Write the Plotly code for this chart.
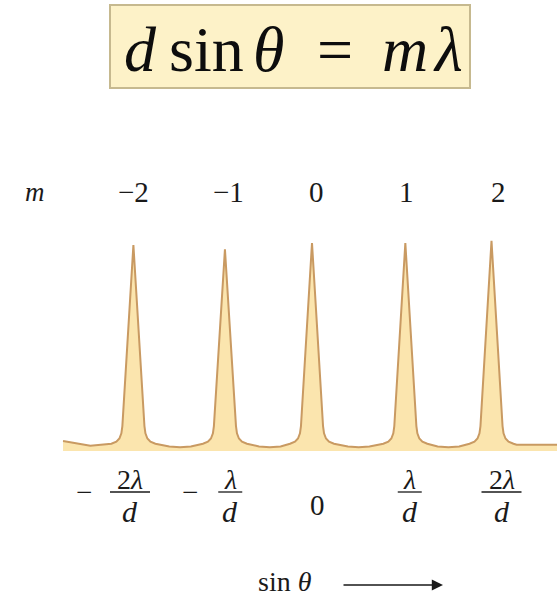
import plotly.graph_objects as go

# ---- data -------------------------------------------------------------
orders = [-2, -1, 0, 1, 2]                      # diffraction order m
order_labels = ["\u22122", "\u22121", "0", "1", "2"]
peak_pos = [-1.99, -0.97, 0.0, 1.04, 2.0]        # sin(theta) in units of lambda/d
peak_top = [0.99, 0.97, 1.0, 1.0, 1.01]          # relative intensity at each maximum

# flank of a principal maximum: offset from centre and intensity level
flank_dx = [0.245, 0.19, 0.156, 0.134, 0.123]
flank_y = [0.035, 0.045, 0.06, 0.085, 0.12]

# shallow troughs between neighbouring maxima
trough_x = [-1.47, -0.47, 0.52, 1.52]
trough_y = [0.018, 0.018, 0.018, 0.018]
trough_side_y = 0.022

left_edge_x, left_edge_y = [-2.774, -2.47], [0.048, 0.025]
right_edge_x, right_edge_y = [2.28, 2.7298], [0.03, 0.03]

# bottom axis labels: (sign, numerator, denominator)
tick_labels = [("\u2212", "2<i>λ</i>", "<i>d</i>"),
               ("\u2212", "<i>λ</i>", "<i>d</i>"),
               ("", "0", ""),
               ("", "<i>λ</i>", "<i>d</i>"),
               ("", "2<i>λ</i>", "<i>d</i>")]

# grating equation, split into its pieces
equation_parts = ["<i>d</i>", "sin", "<i>θ</i>", "=", "<i>m</i>", "<i>λ</i>"]

# ---- assemble the intensity curve -------------------------------------
xs, ys = list(left_edge_x), list(left_edge_y)
for i, (p, h) in enumerate(zip(peak_pos, peak_top)):
    for dx, fy in zip(flank_dx, flank_y):
        xs.append(p - dx); ys.append(fy)
    xs.append(p); ys.append(h)
    for dx, fy in zip(reversed(flank_dx), reversed(flank_y)):
        xs.append(p + dx); ys.append(fy)
    if i < len(trough_x):
        t = trough_x[i]
        xs += [t - 0.12, t, t + 0.12]
        ys += [trough_side_y, trough_y[i], trough_side_y]
xs += right_edge_x
ys += right_edge_y

# ---- page geometry ----------------------------------------------------
W, H = 557, 600
X0_PX, UNIT_PX = 312.0, 89.75     # sin(theta)=0 position, pixels per lambda/d
Y0_PX, YUNIT_PX = 451.0, 208.0    # zero intensity position, pixels per unit


def px(x):
    return x / W


def py(y):
    return 1 - y / H


SERIF = "Liberation Serif, Times New Roman, serif"
INK = "#1a1a1a"


def label(x, y, text, size=29, color=INK, xref="paper", xshift=0):
    return dict(xref=xref, yref="paper", x=x, y=y, xshift=xshift,
                text=text, showarrow=False,
                xanchor="center", yanchor="middle",
                font=dict(family=SERIF, size=size, color=color))


fig = go.Figure()
fig.add_trace(go.Scatter(
    x=xs, y=ys, mode="lines", fill="tozeroy",
    fillcolor="#fbe5ae",
    line=dict(color="#c99a62", width=2),
    hoverinfo="skip", showlegend=False,
))

annotations = []
shapes = []

# equation box
shapes.append(dict(type="rect", xref="paper", yref="paper",
                   x0=px(110), x1=px(470), y0=py(88), y1=py(5),
                   fillcolor="#fdf2c8", line=dict(color="#c6b98f", width=2),
                   layer="below"))
eq_centres = [140, 206, 268, 335, 405, 448]
for part, cx in zip(equation_parts, eq_centres):
    annotations.append(label(px(cx), py(49), part, size=64, color="#0d0d0d"))

# order numbers above the maxima
annotations.append(label(px(35), py(192), "<i>m</i>", size=27))
m_shift = [0.5, 6, 4, 5, 6.5]
for m, lab, s in zip(orders, order_labels, m_shift):
    annotations.append(label(m, py(192), lab, xref="x", xshift=s))

# sin(theta) positions of the maxima, written as fractions
frac_shift = [-2.5, 8, 5, 8, 10]
for m, (sign, num, den), s in zip(orders, tick_labels, frac_shift):
    cx = X0_PX + m * UNIT_PX + s
    if den:
        annotations.append(label(px(cx), py(479), num, size=28))
        annotations.append(label(px(cx), py(511), den, size=30))
        half = 20 if "2" in num else 12
        shapes.append(dict(type="line", xref="paper", yref="paper",
                           x0=px(cx - half), x1=px(cx + half),
                           y0=py(492), y1=py(492),
                           line=dict(color=INK, width=1.3)))
        if sign:
            off = 46 if "2" in num else 40
            annotations.append(label(px(cx - off), py(492), sign))
    else:
        annotations.append(label(px(cx), py(505), num))

# axis caption with arrow
annotations.append(label(px(285), py(581), "sin <i>θ</i>", size=28))
annotations.append(dict(xref="paper", yref="paper", x=px(443), y=py(585),
                        ax=-101, ay=0, text="", showarrow=True,
                        arrowhead=2, arrowsize=1.4, arrowwidth=1.6,
                        arrowcolor=INK))

fig.update_layout(
    width=W, height=H,
    margin=dict(l=0, r=0, t=0, b=0),
    paper_bgcolor="white", plot_bgcolor="white",
    xaxis=dict(range=[-X0_PX / UNIT_PX, (W - X0_PX) / UNIT_PX],
               visible=False, fixedrange=True),
    yaxis=dict(range=[-(H - Y0_PX) / YUNIT_PX, Y0_PX / YUNIT_PX],
               visible=False, fixedrange=True),
    annotations=annotations,
    shapes=shapes,
)

fig.write_html("out.html")
